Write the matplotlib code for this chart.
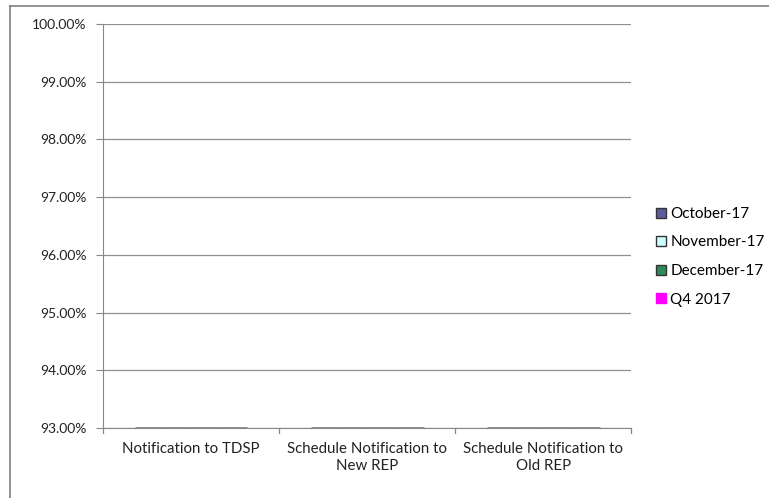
import matplotlib
matplotlib.use("Agg")
import matplotlib.pyplot as plt
import numpy as np
from matplotlib.lines import Line2D
from matplotlib.patches import Patch

categories = ["Notification to TDSP", "Schedule Notification to\nNew REP", "Schedule Notification to\nOld REP"]
series_names = ["October-17", "November-17", "December-17", "Q4 2017"]
october = [0.0, 0.0, 0.0]
november = [0.0, 0.0, 0.0]
december = [0.0, 0.0, 0.0]
q4_2017 = [0.0, 0.0, 0.0]
y_ticks = [93, 94, 95, 96, 97, 98, 99, 100]

colors = ["#5B5B9E", "#CCFFFF", "#2E8B57", "#FF00FF"]
edges = ["#333333", "#333333", "#333333", "#FF00FF"]

plt.rcParams['font.family'] = ['Lato', 'DejaVu Sans']
fig = plt.figure(figsize=(7.69, 4.98), dpi=100)
ax = fig.add_axes([0.134, 0.1406, 0.687, 0.8112])

x = np.arange(len(categories))
w = 0.16
ymin = y_ticks[0]
for i, vals in enumerate([october, november, december, q4_2017]):
    ax.bar(x - 1.5 * w + i * w, vals, w, bottom=ymin, color=colors[i],
           edgecolor="#707070", linewidth=1.8, zorder=3)

ax.set_ylim(y_ticks[0], y_ticks[-1])
ax.set_xlim(-0.5, len(categories) - 0.5)
ax.set_yticks(y_ticks)
ax.set_yticklabels([f"{v:.2f}%" for v in y_ticks], fontsize=10, color="#222222")
ax.set_xticks(x)
ax.set_xticklabels(categories, fontsize=10.8, color="#222222", linespacing=1.25)
ax.tick_params(axis='x', length=0, pad=10)
ax.tick_params(axis='y', length=5, color="#888888", direction='out', pad=7)
# category boundary ticks
for b in np.arange(-0.5, len(categories), 1.0):
    ax.plot([b, b], [-0.012, 0], transform=ax.get_xaxis_transform(), color="#888888",
            lw=0.9, clip_on=False)

ax.grid(axis='y', color="#909090", lw=0.9)
ax.set_axisbelow(True)
for s in ["top", "right"]:
    ax.spines[s].set_visible(False)
ax.spines["left"].set_color("#888888")
ax.spines["bottom"].set_color("#888888")

handles = [Patch(facecolor=colors[i], edgecolor=edges[i], lw=1) for i in range(4)]
leg = fig.legend(handles, series_names, loc="upper left", bbox_to_anchor=(0.835, 0.612),
                 frameon=False, fontsize=11, handlelength=0.65, handleheight=0.65,
                 handletextpad=0.3, labelspacing=0.95)

# figure border (top and left)
fig.add_artist(Line2D([0.013, 1.0], [0.988, 0.988], color="#808080", lw=1.2))
fig.add_artist(Line2D([0.013, 0.013], [0.0, 0.988], color="#808080", lw=1.2))

fig.savefig("out.png", dpi=100)
